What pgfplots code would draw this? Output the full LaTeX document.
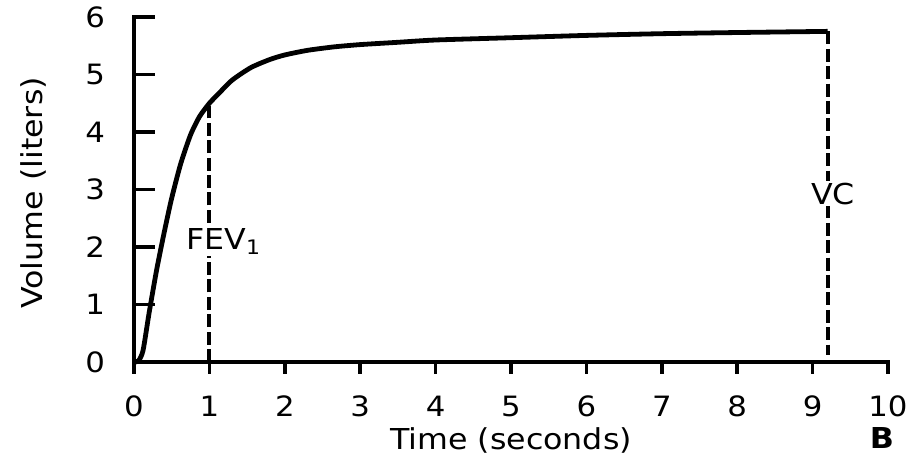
\documentclass[border=0pt]{standalone}
\usepackage{fontspec}
\setmainfont{DejaVu Sans}[FakeStretch=1.1]
\usepackage{pgfplots}
\pgfplotsset{compat=1.18}
\begin{document}
\begin{tikzpicture}
\begin{axis}[
  scale only axis,
  width=377pt, height=172.5pt,
  xmin=0, xmax=10, ymin=0, ymax=6,
  axis x line*=bottom, axis y line*=left,
  axis line style={line width=2pt, black},
  xtick={0,...,10}, ytick={0,...,6},
  xtick align=outside, ytick align=inside,
  every tick/.style={line width=1.8pt, black},
  xtick style={/pgfplots/major tick length=6pt},
  ytick style={/pgfplots/major tick length=10.5pt},
  /pgf/number format/assume math mode=true,
  tick label style={font=\fontsize{14}{16}\selectfont},
  xticklabel style={yshift=-9pt},
  yticklabel style={xshift=-11pt},
  xlabel={Time (seconds)},
  ylabel={Volume (liters)},
  label style={font=\fontsize{14.4}{16}\selectfont},
  xlabel style={at={(axis description cs:0.5,-0.226)}, anchor=center},
  ylabel style={at={(axis description cs:-0.134,0.49)}, anchor=center},
  clip=false,
]
\draw[line width=2pt, line cap=rect] (rel axis cs:0,0) -- (rel axis cs:1,0);
\draw[line width=2pt, line cap=rect] (rel axis cs:0,0) -- (rel axis cs:0,1);
\addplot[black, line width=2.4pt, smooth, tension=0.4] coordinates {
 (0,0) (0.06,0.02) (0.12,0.2) (0.2,0.85) (0.3,1.6) (0.4,2.25) (0.5,2.85)
 (0.62,3.45) (0.75,3.95) (0.87,4.27) (1.0,4.5) (1.11,4.65) (1.3,4.9) (1.55,5.12)
 (1.8,5.26) (2.0,5.34) (2.3,5.42) (2.65,5.48) (3,5.52) (3.5,5.56) (4,5.6)
 (5,5.64) (6,5.68) (7,5.71) (8,5.73) (9.2,5.75)
};
\addplot[black, line width=2pt, dash pattern=on 6.5pt off 2.2pt] coordinates {(1,0) (1,4.45)};
\addplot[black, line width=2pt, dash pattern=on 6.5pt off 2.2pt] coordinates {(9.2,5.75) (9.2,0.12)};
\node[fill=white, inner sep=1pt, font=\fontsize{14.4}{16}\selectfont] at (axis cs:1.19,2.1) {FEV\textsubscript{1}};
\node[fill=white, inner sep=1pt, font=\fontsize{14.4}{16}\selectfont] at (axis cs:9.27,2.93) {VC};
\node[font=\fontsize{14.4}{16}\selectfont\bfseries] at (axis description cs:0.992,-0.22) {B};
\end{axis}
\pgfresetboundingbox
\path (-67pt,-46pt) rectangle (388.5pt,181pt);
\end{tikzpicture}
\end{document}
